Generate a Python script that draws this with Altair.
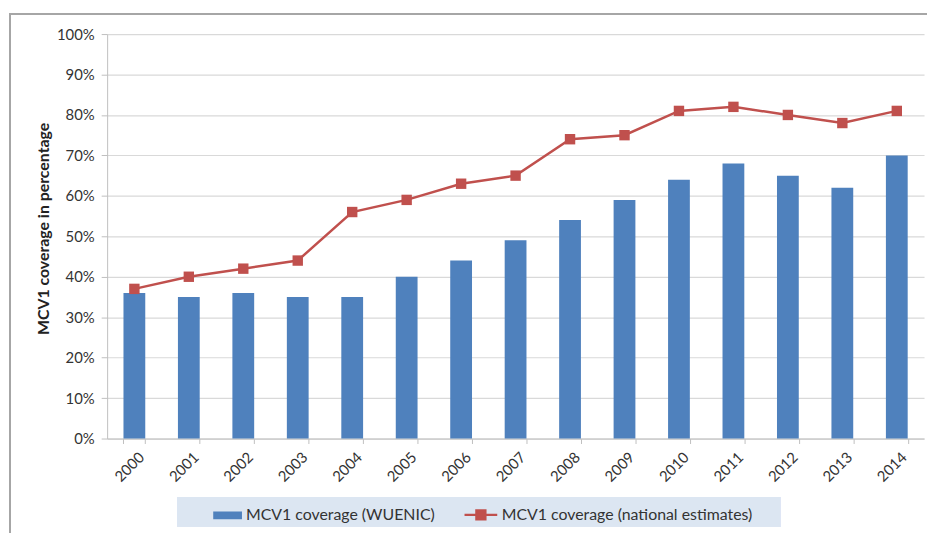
import altair as alt
import pandas as pd

years = ["2000", "2001", "2002", "2003", "2004", "2005", "2006", "2007",
         "2008", "2009", "2010", "2011", "2012", "2013", "2014"]
wuenic = [36, 35, 36, 35, 35, 40, 44, 49, 54, 59, 64, 68, 65, 62, 70]
national = [37, 40, 42, 44, 56, 59, 63, 65, 74, 75, 81, 82, 80, 78, 81]
bar_name = "MCV1 coverage (WUENIC)"
line_name = "MCV1 coverage (national estimates)"
y_ticks = [0, 0.1, 0.2, 0.3, 0.4, 0.5, 0.6, 0.7, 0.8, 0.9, 1.0]

df = pd.DataFrame({
    "year": years,
    "wuenic": [v / 100 for v in wuenic],
    "national": [v / 100 for v in national],
    "bar_series": [bar_name] * len(years),
    "line_series": [line_name] * len(years),
})

FONT = "Lato"
W, H = 824, 408
BLUE = "#4f81bd"
RED = "#c0504d"

x_enc = alt.X(
    "year:N",
    sort=years,
    scale=alt.Scale(paddingInner=0.6, paddingOuter=0.3),
    axis=alt.Axis(
        title=None, labelAngle=-45, labelAlign="right", labelBaseline="middle",
        labelPadding=11, labelOffset=7, tickBand="extent", tickSize=5,
        tickColor="#bfbfbf", domainColor="#bfbfbf", labelFont=FONT,
        labelFontSize=15, labelColor="#333333", grid=False,
    ),
)

y_axis = alt.Axis(
    title="MCV1 coverage in percentage", format=".0%", values=y_ticks,
    titleFont=FONT, titleFontSize=16, titleFontWeight="bold", titleColor="#222222",
    titleX=-64, titleY=H / 2 - 8, titleAngle=-90, titleAlign="center", titleBaseline="middle",
    labelFont=FONT, labelFontSize=15, labelColor="#333333", labelPadding=7,
    tickSize=6, tickColor="#bfbfbf", domainColor="#bfbfbf",
    grid=True, gridColor="#d9d9d9", gridWidth=1.2,
)

base = alt.Chart(df)

frame = base.mark_rect(fill="transparent", stroke="#a6a6a6", strokeWidth=1.5).encode(
    x=alt.value(-98), x2=alt.value(W + 20), y=alt.value(-20), y2=alt.value(H + 120)
)

legend_bg = base.mark_rect(fill="#dce6f2").encode(
    x=alt.value(71), x2=alt.value(679), y=alt.value(467), y2=alt.value(497)
)

bars = base.mark_bar().encode(
    x=x_enc,
    y=alt.Y("wuenic:Q", scale=alt.Scale(domain=[0, 1]), axis=y_axis),
    color=alt.Color(
        "bar_series:N",
        scale=alt.Scale(range=[BLUE]),
        legend=alt.Legend(
            title=None, orient="none", legendX=107, legendY=471, direction="horizontal",
            symbolType="M-1,-0.27H1V0.27H-1Z", symbolSize=841, symbolStrokeWidth=0,
            labelFont=FONT, labelFontSize=16, labelColor="#333333", padding=0,
            labelOffset=4, labelLimit=400,
        ),
    ),
)

line = base.mark_line(color=RED, strokeWidth=2.5).encode(
    x=alt.X("year:N", sort=years),
    y=alt.Y("national:Q"),
)

points = base.mark_square(size=110, opacity=1).encode(
    x=alt.X("year:N", sort=years),
    y=alt.Y("national:Q"),
    color=alt.Color(
        "line_series:N",
        scale=alt.Scale(range=[RED]),
        legend=alt.Legend(
            title=None, orient="none", legendX=359, legendY=467, direction="horizontal",
            symbolType="M-1,0H1M-0.27,-0.27H0.27V0.27H-0.27Z", symbolSize=1089,
            symbolStrokeColor=RED, symbolFillColor=RED, symbolStrokeWidth=2.5,
            labelFont=FONT, labelFontSize=16, labelColor="#333333", padding=0,
            labelOffset=3, labelLimit=400,
        ),
    ),
)

chart = alt.layer(frame, legend_bg, bars, line, points).resolve_scale(
    color="independent"
).properties(
    width=W, height=H,
    autosize=alt.AutoSizeParams(type="none"),
    padding={"left": 100, "top": 24, "right": 3, "bottom": 93},
).configure_view(strokeWidth=0)

chart.save("out.html", embed_options={"renderer": "svg", "actions": False})
